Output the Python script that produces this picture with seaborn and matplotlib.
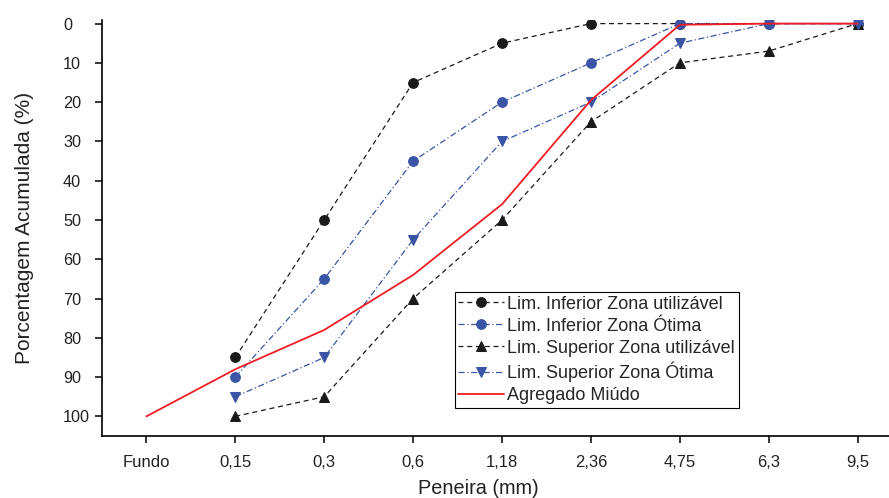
import matplotlib
matplotlib.use("Agg")
import matplotlib.pyplot as plt
import seaborn as sns
import numpy as np

peneiras = ["Fundo", "0,15", "0,3", "0,6", "1,18", "2,36", "4,75", "6,3", "9,5"]

# series start at 0,15 (no value at Fundo)
lim_inf_util = [85, 50, 15, 5, 0, 0, 0, 0]
lim_inf_otima = [90, 65, 35, 20, 10, 0, 0, 0]
lim_sup_util = [100, 95, 70, 50, 25, 10, 7, 0]
lim_sup_otima = [95, 85, 55, 30, 20, 5, 0, 0]
agregado = [100, 88, 78, 64, 46, 19.5, 0.3, 0, 0]

sns.set_style("ticks")
plt.rcParams["font.family"] = ["Liberation Sans", "DejaVu Sans"]

fig = plt.figure(figsize=(8.89, 4.98), dpi=100)
ax = fig.add_axes([0.1147, 0.1245, 0.885, 0.836])

blue = "#3a55a6"
black = "#1a1a1a"
red = "#ee1c25"
x_lim = np.arange(1, len(peneiras))

sns.lineplot(x=x_lim, y=lim_inf_util, ax=ax, color=black, lw=0.9, marker="o", ms=7,
             mec=black, label="Lim. Inferior Zona utilizável")
ax.lines[-1].set_dashes([4, 3])
sns.lineplot(x=x_lim, y=lim_inf_otima, ax=ax, color=blue, lw=0.9, marker="o", ms=7,
             mec=blue, label="Lim. Inferior Zona Ótima")
ax.lines[-1].set_dashes([5, 2, 1, 2])
sns.lineplot(x=x_lim, y=lim_sup_util, ax=ax, color=black, lw=0.9, marker="^", ms=7,
             mec=black, label="Lim. Superior Zona utilizável")
ax.lines[-1].set_dashes([4, 3])
sns.lineplot(x=x_lim, y=lim_sup_otima, ax=ax, color=blue, lw=0.9, marker="v", ms=7,
             mec=blue, label="Lim. Superior Zona Ótima")
ax.lines[-1].set_dashes([5, 2, 1, 2])
sns.lineplot(x=np.arange(len(peneiras)), y=agregado, ax=ax, color=red, lw=1.3,
             label="Agregado Miúdo")

ax.set_xticks(np.arange(len(peneiras)))
ax.set_xticklabels(peneiras)
ax.set_xlim(-0.5, 8.35)
ax.set_ylim(105, -1)
ax.set_yticks(np.arange(0, 101, 10))

for s in ["top", "right"]:
    ax.spines[s].set_visible(False)
for s in ["left", "bottom"]:
    ax.spines[s].set_linewidth(1.2)
    ax.spines[s].set_color("black")
ax.tick_params(axis="both", direction="out", length=5, width=1.1, colors="black",
               labelcolor="#222222")
ax.tick_params(axis="x", labelsize=12, pad=9)
# y tick labels are left aligned in the original
ax.tick_params(axis="y", labelsize=11.7, pad=23)
for t in ax.get_yticklabels():
    t.set_horizontalalignment("left")

ax.set_xlabel("Peneira (mm)", fontsize=14.3, color="#222222", va="top")
ax.set_ylabel("Porcentagem Acumulada (%)", fontsize=15, color="#222222")
ax.xaxis.set_label_coords(0.478, -0.104)
ax.yaxis.set_label_coords(-0.087, 0.5)

leg = ax.legend(loc="upper left", bbox_to_anchor=(0.4485, 0.346), fontsize=13,
                frameon=True, fancybox=False, edgecolor="black", framealpha=1,
                handlelength=2.5, handletextpad=0.2, borderpad=0.2,
                labelspacing=0.28, borderaxespad=0)
leg.get_frame().set_linewidth(0.8)

fig.savefig("out.png", dpi=100)
